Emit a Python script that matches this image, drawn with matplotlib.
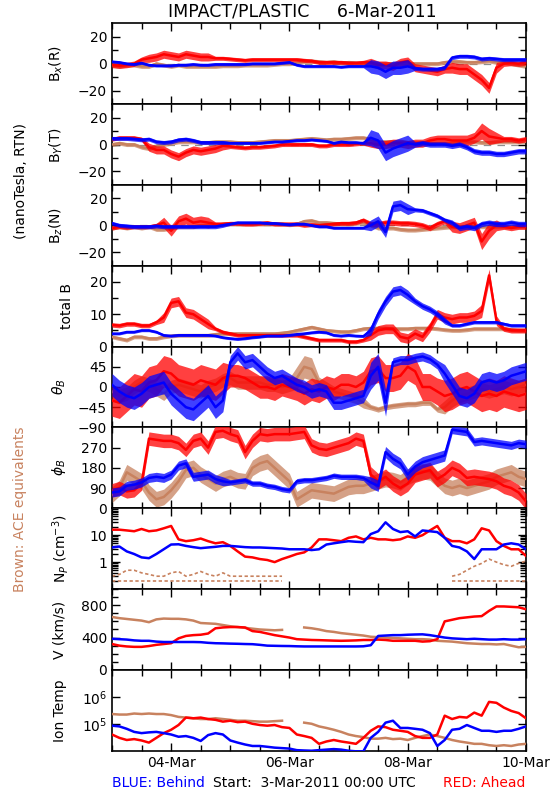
import numpy as np
import matplotlib
matplotlib.use('Agg')
import matplotlib.pyplot as plt
from matplotlib.ticker import MultipleLocator, FixedLocator, FixedFormatter, NullFormatter, NullLocator, LogLocator

nan = np.nan
# sample times: hours after 3-Mar-2011 00:00 UTC (3-hour samples)
hours = list(range(0, 169, 3))

tick_days = [1, 3, 5, 7]
tick_labels = ['04-Mar', '06-Mar', '08-Mar', '10-Mar']

# ---------------- Bx (R) ----------------
bx_blue = [1.5, 1, 0, -0.5, 0.5, -1, -1.5, -1.5, -1.5, -1, -1, -0.5, -1, -1, -0.5, -0.5, -0.5, -0.5, -0.5, 0, 0, 0, 0, 0.5, 1,
           -1, -2, -2, -2, -2, -2, -2.5, -2, -2, -2, -2, -3, -6, -3, -3, -2, -3.5, -4, -4, -4, -3, 4.5, 5.5, 5.5, 5, 3.5, 4, 3.5, 3, 3, 3, 3]
bx_red = [-1, -1.5, -1, 0, 3, 4, 5, 7, 6, 5, 7, 6, 5, 5, 4, 4, 3.5, 3, 2.5, 3, 3, 3, 3, 3, 3,
          3, 2.5, 2, 1, 1, 1, 1, 0.5, 0.5, 1, 1, -1, -1, -2, 1, 2, -3, -4, -5, -6, -4, -3, -4, -4, -8, -12, -18, -3, 0, 0.5, 0, 1]
bx_brown = [-1, -2, -1, -1, -2, -2, 0, -1, -2, -1, -2, -2, -2, -2, -2, -1.5, -1.5, -1.5, -1, -1, -1, -1, -0.5, 0, 0,
            0.5, 1.5, 2, 1.5, 1, 1.5, 0.5, 1, 0.5, 0, 0, 0, 0, 0, 0, 0, 0, 0, 0, 0, 1, 1.5, 1.5, 1, 1, 1.5, 2, 1, 1, 0, -1, -2]
bx_blue_spread = [1, 1, 1, 1, 1, 1, 1, 1, 1, 1, 1, 1, 1, 1, 1, 1, 1, 1, 1, 1, 1, 1, 1, 1, 1,
                  1, 1, 1, 1, 1, 1, 1, 1, 1, 1, 5, 5, 5, 5, 5, 5, 1.5, 1.5, 1.5, 1.5, 1.5, 1.5, 1.5, 1.5, 1.5, 1.5, 1.5, 1.5, 1.5, 1.5, 1.5, 1.5]
bx_red_spread = [2, 2, 2, 2, 2, 3, 3, 3, 3, 3, 3, 3, 3, 3, 1.5, 1.5, 1.5, 1.5, 1.5, 1.5, 1.5, 1.5, 1.5, 1.5, 1.5,
                 1.5, 1.5, 1.5, 1.5, 1.5, 1.5, 1.5, 1.5, 1.5, 1.5, 3, 3, 3, 3, 3, 3, 3, 3, 3, 3, 3, 4, 4, 4, 4, 4, 4, 4, 2, 2, 2, 2]
bx_brown_spread = [1.5, 1.5, 1.5, 1.5, 1.5, 1.5, 1.5, 1.5, 1.5, 1.5, 1.5, 1.5, 1.5, 1.5, 1.5, 1.5, 1.5, 1.5, 1.5, 1.5, 1.5, 1.5, 1.5, 1.5, 1.5,
                   1.5, 1.5, 1.5, 1.5, 1.5, 1.5, 1.5, 1.5, 1.5, 1.5, 1.5, 1.5, 1.5, 1.5, 1.5, 1.5, 1.5, 1.5, 1.5, 1.5, 1.5, 1.5, 1.5, 1.5, 1.5, 1.5, 1.5, 1.5, 1.5, 1.5, 1.5, 1.5]

# ---------------- By (T) ----------------
by_blue = [4.5, 4.5, 4.5, 4, 3.5, 4, 2, 1.5, 2, 3.5, 4, 3, 1.5, 1.5, 1.5, 1.5, 1, 1, 1, 1, 1, 1.5, 2, 2, 2.5,
           3, 3, 3.5, 3, 2.5, 1, 2, 1.5, 1.5, 1, 5, 3, -6, -3, -1, 1, 0, 1, 0, 0, 0, -1, 0, -2, -5, -6, -6, -7, -7, -6, -5, -5]
by_red = [4, 5, 5, 5, 4, -2, -4, -4, -7, -9, -6, -4, -5, -4, -3, -1, -1.5, -2, -2.5, -2, -2, -1.5, -1, 0, 0,
          0, 0, 0, -1, -1, 0, 0, 0, 0.5, 1, 1, 0, 0, 1, 1, 0, 1, 1, 3, 4, 4, 3, 3, 3, 5, 10, 6, 5, 4, 4, 3, 4]
by_brown = [0, 1, 0, 0, -2, -3, -1, 0, 1, 2, 2, 2, 1.5, 1.5, 2, 2, 2, 1.5, 1.5, 1.5, 2, 2.5, 3, 3, 3,
            3.5, 4, 4.5, 4, 3.5, 4, 4, 4.5, 5, 5, 4, 2, 2, 2, 1.5, 1.5, 1.5, 1.5, 1, 1, 1, 1, 1.5, 2, 2, 1.5, 1.5, 2, 2, 2, 2, 2]
by_blue_spread = [1.5, 1.5, 1.5, 1.5, 1.5, 1.5, 1.5, 1.5, 1.5, 1.5, 1.5, 1.5, 1.5, 1.5, 1.5, 1.5, 1, 1, 1, 1, 1, 1, 1, 1, 1,
                  1, 1, 1, 1, 1, 1, 1, 1, 1, 1, 6, 6, 6, 6, 6, 6, 2, 2, 2, 2, 2, 2, 2, 2, 2, 2, 2, 2, 2, 2, 2, 2]
by_red_spread = [1.5, 1.5, 1.5, 1.5, 1.5, 3, 3, 3, 3, 3, 3, 3, 3, 3, 3, 3, 1.5, 1.5, 1.5, 1.5, 1.5, 1.5, 1.5, 1.5, 1.5,
                 1.5, 1.5, 1.5, 1.5, 1.5, 1.5, 1.5, 1.5, 1.5, 1.5, 3, 3, 3, 3, 3, 3, 3, 3, 3, 3, 3, 4, 4, 4, 4, 6, 6, 4, 2, 2, 2, 2]
by_brown_spread = bx_brown_spread

# ---------------- Bz (N) ----------------
bz_blue = [1.5, 0, -0.5, -1, -1, -1, -0.5, -1, -1, -1, -1, -1, -1, -1, -1, 0, 1, 2, 2, 2, 2, 1.5, 1.5, 1, 0.5,
           1, 1, 0, -1, -1, -2, -2, -2, -2, -2, 0, 3, -5, 14, 15, 12, 11.5, 11, 9, 7, 4, 2, -2, -1, -2, 1, 2, 1, 1, 2, 1, 1]
bz_red = [-2, -1, -1.5, -1, -1, -1, 0, 2, -4, 3, 5, 2, 3, 2, 1, 1, 1.5, 1.5, 1, 1, 1.5, 2, 1, 1, 1,
          1, 0, 0.5, 0, 0.5, 1, 1.5, 1.5, 2, 4, 1, 1, 2, 2, 1.5, 1.5, 1, 0, -2, 1, 3, -1, -2, 0, 2, -12, -4, 0, -1, -2, -1, -1]
bz_brown = [-2, -1, -2, -1, -2, -1, -3, -3, -2, -1, -1, -1, 0, 0, 0, 1, 1, 1, 1, 1, 1, 1, 1, 1, 0.5,
            1, 3, 3.5, 2, 2, 1.5, 1, 1, 1.5, 2, 0, -2, -2, -2, -3, -3.5, -3.5, -3, -2.5, -2, -1.5, -1, -1, -1, -1, -1, -1, -1, -1, -1, -1, -1]
bz_blue_spread = [1.5, 1.5, 1.5, 1.5, 1.5, 1.5, 1.5, 1.5, 1.5, 1.5, 1.5, 1.5, 1.5, 1.5, 1.5, 1.5, 1, 1, 1, 1, 1, 1, 1, 1, 1,
                  1, 1, 1, 1, 1, 1, 1, 1, 1, 1, 4, 4, 4, 4, 4, 4, 1.5, 1.5, 1.5, 1.5, 1.5, 2, 2, 2, 2, 2, 2, 2, 2, 2, 2, 2]
bz_red_spread = [1.5, 1.5, 1.5, 1.5, 1.5, 1.5, 1.5, 4, 4, 4, 4, 4, 4, 4, 1.5, 1.5, 1.5, 1.5, 1.5, 1.5, 1.5, 1.5, 1.5, 1.5, 1.5,
                 1.5, 1.5, 1.5, 1.5, 1.5, 1.5, 1.5, 1.5, 1.5, 1.5, 2, 2, 2, 2, 2, 2, 2, 2, 2, 2, 2, 4, 4, 4, 4, 6, 6, 4, 2, 2, 2, 2]
bz_brown_spread = bx_brown_spread

# ---------------- total B ----------------
bt_blue = [4, 4, 4.5, 4.5, 5, 5, 4.5, 3.5, 3.3, 3.5, 3.5, 3.5, 3.5, 3.5, 3.3, 2.8, 2.5, 2.3, 2.5, 2.8, 3, 3.3, 3.3, 3.3, 3.5,
           3.8, 4, 4.3, 4.5, 4.3, 3.5, 3.3, 3.5, 3.3, 3.2, 5, 10, 14, 17, 17.5, 16, 14, 12.5, 11.5, 10, 8, 6.5, 6.5, 7, 7.5, 7.5, 7.5, 7.5, 7, 6.5, 6.5, 6.5]
bt_red = [6.7, 6.5, 7, 7, 6.5, 6.5, 7.5, 9, 13.5, 14, 10.5, 10, 8.5, 7, 5.5, 4.5, 4, 3.5, 3.5, 3.5, 3.5, 3.5, 3.5, 3.5, 3.5,
          3.5, 3, 2.5, 2, 2, 2, 2, 1.5, 1.5, 2, 3.5, 5, 5.5, 5.5, 3, 2.5, 4, 3, 6, 10, 9, 8.5, 9, 9, 9.5, 11, 22, 8, 5.5, 5, 5, 5]
bt_brown = [3, 2.5, 2, 3, 3, 2.5, 2.5, 3, 3.3, 3.5, 3.5, 3.5, 3.5, 3.5, 3.8, 4, 4, 4, 4, 4, 4, 4, 4, 4.2, 4.5,
            5, 5.5, 6, 5.5, 5, 4.8, 4.6, 4.6, 5, 5.5, 5.7, 5.7, 5.7, 5.5, 5.5, 5.5, 5.7, 5.7, 5.7, 5.5, 5.2, 5, 5, 5.2, 5.5, 5.5, 5.5, 5.5, 5.5, 5.2, 5, 5]
bt_blue_spread = [0.4, 0.4, 0.4, 0.4, 0.4, 0.4, 0.4, 0.4, 0.4, 0.4, 0.4, 0.4, 0.4, 0.4, 0.4, 0.4, 0.4, 0.4, 0.4, 0.4, 0.4, 0.4, 0.4, 0.4, 0.4,
                  0.4, 0.4, 0.4, 0.4, 0.4, 0.4, 0.4, 0.4, 0.4, 0.4, 1.5, 1.5, 1.5, 1.5, 1.5, 1.5, 1, 1, 1, 1, 1, 0.5, 0.5, 0.5, 0.5, 0.5, 0.5, 0.5, 0.5, 0.5, 0.5, 0.5]
bt_red_spread = [0.7, 0.7, 0.7, 0.7, 0.7, 0.7, 0.7, 1.5, 1.5, 1.5, 1.5, 1.5, 1.5, 1.5, 0.6, 0.6, 0.6, 0.6, 0.6, 0.6, 0.6, 0.6, 0.6, 0.6, 0.6,
                 0.6, 0.6, 0.6, 0.6, 0.6, 0.6, 0.6, 0.6, 0.6, 0.6, 1.5, 1.5, 1.5, 1.5, 1.5, 1.5, 1.5, 1.5, 1.5, 1.5, 1.5, 1.5, 1.5, 1.5, 1.5, 2, 2, 1.5, 0.8, 0.8, 0.8, 0.8]
bt_brown_spread = [0.6, 0.6, 0.6, 0.6, 0.6, 0.6, 0.6, 0.6, 0.6, 0.6, 0.6, 0.6, 0.6, 0.6, 0.6, 0.6, 0.6, 0.6, 0.6, 0.6, 0.6, 0.6, 0.6, 0.6, 0.6,
                   0.6, 0.6, 0.6, 0.6, 0.6, 0.6, 0.6, 0.6, 0.6, 0.6, 0.6, 0.6, 0.6, 0.6, 0.6, 0.6, 0.6, 0.6, 0.6, 0.6, 0.6, 0.6, 0.6, 0.6, 0.6, 0.6, 0.6, 0.6, 0.6, 0.6, 0.6, 0.6]

# ---------------- theta_B (deg) ----------------
th_blue = [5, -10, -20, -25, -15, 0, 5, 10, -15, -30, -45, -50, -35, -20, -45, -30, 55, 75, 55, 60, 45, 30, 20, 25, 15,
           5, 0, -10, -5, -10, -35, -35, -30, -25, -20, 25, 45, -35, 55, 60, 60, 65, 68, 62, 50, 30, 5, -20, -25, -15, 10, 15, 10, 15, 25, 30, 35]
th_red = [-30, -35, -20, -5, -10, 10, 15, 35, 30, 15, 10, 5, 15, 10, 5, 20, 25, 25, 20, 10, 0, 0, -5, 5, 0,
          -5, -15, -5, -10, 0, -5, 5, 5, 0, 10, 35, 40, 20, 20, 25, 45, 35, 0, 0, -10, -20, -15, -5, 0, -10, -20, -15, -20, -10, -15, -20, -15]
th_brown = [-10, -20, -15, 0, 10, 5, -5, -15, 0, 5, 0, -5, -10, 0, 5, 15, 20, 10, 10, 10, 10, 5, 5, 0, 5,
            20, 45, 40, 10, 0, -10, -15, -20, -25, -35, -45, -50, -45, -42, -40, -38, -38, -35, -35, -50, -45, -30, -20, -15, -10, -5, -10, -5, 0, -5, 0, 5]
th_blue_spread = [25, 25, 25, 25, 25, 25, 25, 25, 25, 25, 25, 25, 25, 25, 25, 25, 15, 15, 15, 15, 15, 15, 15, 15, 15,
                  15, 15, 15, 15, 15, 15, 15, 15, 15, 15, 30, 30, 30, 10, 10, 10, 10, 10, 10, 10, 20, 20, 20, 20, 20, 20, 20, 20, 20, 20, 20, 20]
th_red_spread = [35, 35, 35, 35, 35, 35, 35, 35, 35, 35, 35, 35, 35, 35, 35, 35, 25, 25, 25, 25, 25, 25, 25, 25, 25,
                 25, 25, 25, 25, 25, 25, 25, 25, 25, 25, 30, 30, 30, 30, 30, 30, 30, 30, 30, 30, 35, 35, 35, 35, 35, 35, 35, 35, 35, 35, 35, 35]
th_brown_spread = [15, 15, 15, 15, 15, 15, 15, 15, 15, 15, 15, 15, 15, 15, 15, 15, 15, 15, 15, 15, 15, 15, 15, 15, 15,
                   25, 25, 25, 12, 12, 12, 12, 12, 12, 12, 6, 6, 6, 6, 6, 6, 6, 6, 6, 6, 15, 15, 15, 15, 15, 15, 15, 15, 15, 15, 15, 15]

# ---------------- phi_B (deg) ----------------
ph_blue = [70, 75, 100, 105, 115, 135, 140, 135, 150, 190, 200, 140, 145, 150, 130, 120, 115, 120, 125, 110, 110, 100, 95, 85, 80,
           120, 125, 125, 130, 135, 145, 140, 140, 140, 135, 115, 100, 250, 220, 200, 150, 185, 205, 215, 225, 235, 350, 345, 340, 295, 300, 295, 290, 285, 280, 290, 285]
ph_red = [80, 90, 75, 80, 110, 310, 305, 300, 300, 290, 260, 300, 310, 270, 340, 345, 330, 320, 250, 300, 330, 325, 330, 330, 330,
          335, 340, 280, 265, 260, 270, 280, 290, 310, 300, 150, 120, 140, 110, 90, 110, 150, 160, 170, 130, 150, 180, 165, 135, 140, 135, 130, 120, 100, 90, 70, 30]
ph_brown = [60, 90, 160, 140, 120, 70, 40, 50, 80, 120, 170, 180, 150, 130, 110, 130, 140, 125, 120, 180, 200, 210, 180, 150, 120,
            40, 60, 80, 75, 70, 65, 80, 95, 100, 100, 110, 120, 130, 125, 115, 140, 155, 165, 160, 130, 100, 90, 100, 90, 100, 110, 120, 140, 150, 160, 140, 130]
ph_blue_spread = [20, 20, 20, 20, 20, 20, 20, 20, 20, 20, 20, 20, 20, 20, 20, 20, 12, 12, 12, 12, 12, 12, 12, 12, 12,
                  12, 12, 12, 12, 12, 12, 12, 12, 12, 12, 25, 25, 25, 25, 25, 25, 25, 25, 25, 25, 25, 18, 18, 18, 18, 18, 18, 18, 18, 18, 18, 18]
ph_red_spread = [30, 30, 30, 30, 30, 30, 30, 30, 30, 30, 30, 30, 30, 30, 30, 30, 30, 30, 30, 30, 30, 30, 30, 30, 30,
                 30, 30, 30, 30, 30, 30, 30, 30, 30, 30, 35, 35, 35, 35, 35, 35, 35, 35, 35, 35, 35, 35, 35, 35, 35, 35, 35, 35, 35, 35, 35, 35]
ph_brown_spread = [35, 35, 35, 35, 35, 35, 35, 35, 35, 35, 35, 35, 35, 35, 35, 35, 35, 35, 35, 35, 35, 35, 35, 35, 35,
                   35, 35, 35, 35, 35, 35, 35, 35, 35, 35, 35, 35, 35, 35, 35, 35, 35, 35, 35, 35, 35, 35, 35, 35, 35, 35, 35, 35, 35, 35, 35, 35]

# ---------------- Np (cm^-3) ----------------
np_blue = [3.5, 3.8, 2.5, 2.0, 1.5, 1.4, 2.0, 3.0, 4.5, 4.6, 4.0, 3.6, 3.3, 3.5, 3.7, 4.0, 4.0, 3.8, 3.6, 3.5, 3.5, 3.4, 3.3, 3.2, 3.0,
           3.0, 3.0, 2.8, 3.0, 4.5, 5.0, 5.5, 6.0, 5.7, 5.5, 11, 14, 30, 17, 13, 14, 9, 15, 14, 13, 8, 4.0, 3.5, 2.5, 1.3, 3.0, 3.0, 3.0, 4.5, 5.0, 4.5, 3.0]
np_red = [16, 16, 15, 14, 17, 14, 15, 18, 22, 7, 6, 6.5, 7.5, 6, 5, 5.5, 4, 2.5, 1.6, 1.5, 1.3, 1.2, 1.0, 1.3, 1.6,
          2.0, 2.3, 3.5, 7, 7, 6.5, 6, 8, 9, 7, 8, 7, 7, 6.5, 7, 9, 8, 10, 15, 22, 8, 6, 6, 5, 7, 18, 15, 6, 4, 3, 3, 1.7]
np_brown_lo = [0.2, 0.2, 0.2, 0.2, 0.2, 0.2, 0.2, 0.2, 0.2, 0.2, 0.2, 0.2, 0.2, 0.2, 0.2, 0.2, 0.2, 0.2, 0.2, 0.2, 0.2, 0.2, 0.2, 0.2, nan,
               nan, nan, nan, nan, nan, nan, nan, nan, nan, nan, nan, nan, nan, nan, nan, nan, nan, nan, nan, nan, nan, 0.2, 0.2, 0.2, 0.2, 0.2, 0.2, 0.2, 0.2, 0.2, 0.2, 0.2]
np_brown_hi = [0.3, 0.35, 0.5, 0.5, 0.4, 0.35, 0.3, 0.3, 0.4, 0.45, 0.3, 0.35, 0.45, 0.35, 0.3, 0.4, 0.3, 0.3, 0.3, 0.3, 0.3, 0.3, 0.3, 0.3, nan,
               nan, nan, nan, nan, nan, nan, nan, nan, nan, nan, nan, nan, nan, nan, nan, nan, nan, nan, nan, nan, nan, 0.3, 0.35, 0.5, 0.7, 0.9, 1.3, 1.0, 0.8, 0.7, 0.9, 1.1]

# ---------------- V (km/s) ----------------
v_blue = [385, 380, 375, 365, 360, 360, 350, 345, 345, 345, 345, 345, 343, 335, 330, 328, 325, 323, 320, 318, 310, 300, 298, 296, 295,
          292, 290, 290, 290, 290, 290, 290, 290, 290, 292, 305, 420, 425, 430, 430, 435, 438, 440, 430, 415, 400, 390, 385, 380, 385, 380, 375, 375, 380, 375, 375, 380]
v_red = [320, 300, 290, 285, 285, 295, 310, 320, 330, 390, 420, 430, 435, 450, 515, 525, 530, 530, 525, 480, 470, 450, 430, 415, 400,
         380, 375, 370, 368, 365, 362, 360, 362, 365, 370, 370, 375, 370, 360, 360, 360, 360, 350, 355, 380, 600, 620, 640, 650, 660, 665, 730, 785, 785, 780, 775, 750]
v_brown = [655, 640, 630, 620, 610, 590, 625, 635, 632, 632, 625, 610, 580, 575, 570, 555, 540, 530, 520, 510, 500, 495, 490, 495, nan,
           nan, 525, 515, 500, 480, 470, 455, 445, 435, 425, 410, 405, 400, 395, 390, 385, 380, 380, 375, 360, 355, 350, 340, 330, 325, 320, 320, 315, 320, 300, 280, 285]

# ---------------- Ion temperature (K) ----------------
ti_blue = [85000, 80000, 65000, 50000, 45000, 48000, 50000, 45000, 40000, 33000, 35000, 30000, 23000, 38000, 45000, 40000, 24000, 20000, 17000, 15000,
           15000, 14000, 13000, 12500, 12000, 10500, 10200, 10000, 10500, 11000, 11500, 11000, 10000, 9500, 9500, 30000, 50000, 110000, 130000, 70000,
           70000, 65000, 60000, 45000, 15000, 25000, 60000, 65000, 90000, 70000, 55000, 55000, 50000, 55000, 55000, 65000, 80000]
ti_red = [40000, 30000, 25000, 27000, 24000, 20000, 30000, 45000, 60000, 90000, 170000, 160000, 170000, 150000, 140000, 120000, 130000, 115000, 120000, 100000,
          90000, 85000, 90000, 75000, 70000, 40000, 35000, 30000, 18000, 22000, 25000, 22000, 20000, 18000, 30000, 55000, 80000, 75000, 60000, 55000,
          50000, 35000, 30000, 30000, 40000, 200000, 150000, 180000, 170000, 260000, 200000, 650000, 600000, 400000, 300000, 250000, 160000]
ti_brown = [230000, 220000, 220000, 240000, 230000, 240000, 230000, 230000, 210000, 180000, 170000, 160000, 150000, 150000, 160000, 150000, 140000, 130000, 130000, 125000,
            120000, 120000, 125000, 130000, nan, nan, 110000, 100000, 80000, 70000, 60000, 50000, 40000, 35000, 32000, 28000, 28000, 30000, 27000, 28000,
            25000, 30000, 35000, 40000, 35000, 30000, 25000, 22000, 20000, 18000, 18000, 16000, 15000, 16000, 15000, 17000, 18000]

BLUE = '#0000ff'
RED = '#ff0000'
BROWN = '#c8825f'

plt.rcParams['font.family'] = ['DejaVu Sans']
plt.rcParams['font.size'] = 10

t = np.array(hours) / 24.0

fig, axes = plt.subplots(9, 1, figsize=(5.5, 8), dpi=100, sharex=True)
fig.subplots_adjust(left=0.2036, right=0.9564, top=0.9709, bottom=0.0616, hspace=0)

panels = [
    (bx_brown, bx_red, bx_blue, (bx_brown_spread, bx_red_spread, bx_blue_spread)),
    (by_brown, by_red, by_blue, (by_brown_spread, by_red_spread, by_blue_spread)),
    (bz_brown, bz_red, bz_blue, (bz_brown_spread, bz_red_spread, bz_blue_spread)),
    (bt_brown, bt_red, bt_blue, (bt_brown_spread, bt_red_spread, bt_blue_spread)),
    (th_brown, th_red, th_blue, (th_brown_spread, th_red_spread, th_blue_spread)),
    (ph_brown, ph_red, ph_blue, (ph_brown_spread, ph_red_spread, ph_blue_spread)),
    (None, np_red, np_blue, None),
    (v_brown, v_red, v_blue, None),
    (ti_brown, ti_red, ti_blue, None),
]

for ax, (br, rd, bl, spreads) in zip(axes, panels):
    cols = [BROWN, RED, BLUE]
    for k, (series, c) in enumerate(zip([br, rd, bl], cols)):
        if series is None:
            continue
        y = np.array(series, dtype=float)
        if spreads is not None:
            s = np.array(spreads[k], dtype=float)
            ax.fill_between(t, y - s, y + s, color=c, alpha=0.75, lw=0, zorder=2 + 2 * k)
        ax.plot(t, y, color=c, lw=1.8, zorder=3 + 2 * k)

axes[6].plot(t, np_brown_lo, color=BROWN, lw=1.2, ls=(0, (2, 1.5)), zorder=2)
axes[6].plot(t, np_brown_hi, color=BROWN, lw=1.2, ls=(0, (2, 1.5)), zorder=2)

# y axes
for i in range(3):
    axes[i].set_ylim(-30, 30)
    axes[i].yaxis.set_major_locator(FixedLocator([-20, 0, 20]))
    axes[i].yaxis.set_minor_locator(FixedLocator([-10, 10]))
    axes[i].axhline(0, color='#909090', lw=0.9, ls=(0, (6, 5)), zorder=1)
axes[3].set_ylim(0, 25)
axes[3].yaxis.set_major_locator(FixedLocator([0, 10, 20]))
axes[3].yaxis.set_minor_locator(FixedLocator([5, 15]))
axes[4].set_ylim(-90, 90)
axes[4].yaxis.set_major_locator(FixedLocator([-90, -45, 0, 45]))
axes[4].yaxis.set_minor_locator(NullLocator())
axes[5].set_ylim(0, 360)
axes[5].yaxis.set_major_locator(FixedLocator([0, 90, 180, 270]))
axes[5].yaxis.set_minor_locator(NullLocator())
axes[6].set_yscale('log')
axes[6].set_ylim(0.1, 100)
axes[6].yaxis.set_major_locator(FixedLocator([1, 10]))
axes[6].yaxis.set_major_formatter(FixedFormatter(['1', '10']))
axes[6].yaxis.set_minor_locator(LogLocator(base=10, subs=np.arange(2, 10)))
axes[6].yaxis.set_minor_formatter(NullFormatter())
axes[7].set_ylim(0, 1000)
axes[7].yaxis.set_major_locator(FixedLocator([0, 400, 800]))
axes[7].yaxis.set_minor_locator(MultipleLocator(100))
axes[8].set_yscale('log')
axes[8].set_ylim(1e4, 1e7)
axes[8].yaxis.set_major_locator(FixedLocator([1e5, 1e6]))
axes[8].yaxis.set_major_formatter(FixedFormatter(['10$^5$', '10$^6$']))
axes[8].yaxis.set_minor_locator(NullLocator())

ylabels = ['B$_x$(R)', 'B$_Y$(T)', 'B$_z$(N)', 'total B', r'$\theta_B$', r'$\phi_B$',
           'N$_P$ (cm$^{-3}$)', 'V (km/s)', 'Ion Temp']
label_x = [65, 65, 65, 74, 68, 68, 71, 67, 67]
for ax, lab, lx in zip(axes, ylabels, label_x):
    ax.set_ylabel(lab, fontsize=10)
    ax.yaxis.set_label_coords((lx - 112) / 414.0, 0.5)

for ax in axes:
    ax.set_xlim(0, 7)
    ax.xaxis.set_major_locator(FixedLocator(tick_days))
    ax.xaxis.set_minor_locator(MultipleLocator(0.5))
    ax.tick_params(which='both', direction='in', top=True, right=True, labelsize=10)
    ax.tick_params(which='major', length=6, width=1)
    ax.tick_params(which='minor', length=4, width=1)
    for sp in ax.spines.values():
        sp.set_linewidth(1.2)

axes[-1].set_xticklabels(tick_labels)
for ax in axes[:-1]:
    ax.tick_params(labelbottom=False)

fig.text(302 / 550, 1 - 12 / 800, 'IMPACT/PLASTIC     6-Mar-2011', ha='center', va='center', fontsize=12.5)
fig.text(21 / 550, 1 - 181 / 800, '(nanoTesla, RTN)', rotation=90, ha='center', va='center', fontsize=10)
fig.text(20 / 550, 1 - 509 / 800, 'Brown: ACE equivalents', rotation=90, ha='center', va='center', fontsize=10, color=BROWN)
fig.text(112 / 550, 1 - 783 / 800, 'BLUE: Behind', ha='left', va='center', fontsize=10, color=BLUE)
fig.text(213 / 550, 1 - 783 / 800, 'Start:  3-Mar-2011 00:00 UTC', ha='left', va='center', fontsize=10)
fig.text(525 / 550, 1 - 783 / 800, 'RED: Ahead', ha='right', va='center', fontsize=10, color=RED)

fig.savefig('out.png', dpi=100)
